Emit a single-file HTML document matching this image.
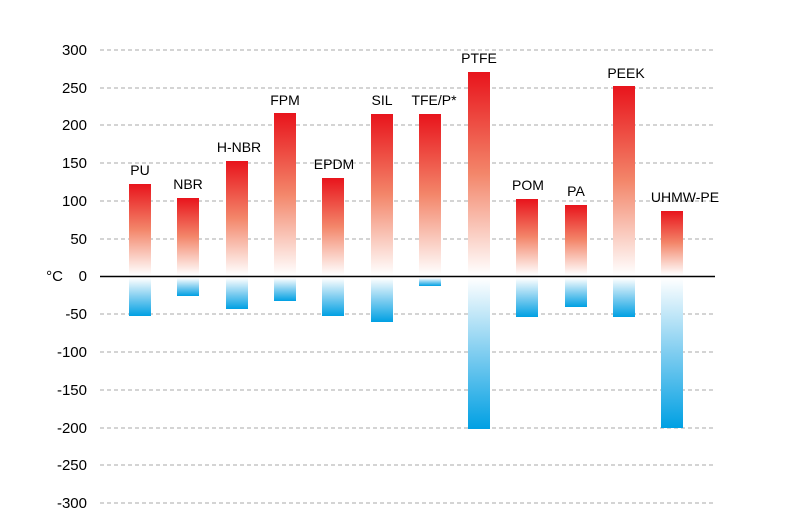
<!DOCTYPE html>
<html><head><meta charset="utf-8"><style>body{margin:0;background:#fff}svg{display:block}</style></head><body>
<svg width="789" height="514" xmlns="http://www.w3.org/2000/svg" font-family="Liberation Sans, sans-serif">
<defs>
<linearGradient id="r" x1="0" y1="0" x2="0" y2="1"><stop offset="0" stop-color="#e8141c"/><stop offset="0.5" stop-color="#f3866a"/><stop offset="1" stop-color="#ffffff"/></linearGradient>
<linearGradient id="b" x1="0" y1="0" x2="0" y2="1"><stop offset="0" stop-color="#ffffff"/><stop offset="0.5" stop-color="#7fcdf0"/><stop offset="1" stop-color="#00a0e3"/></linearGradient>
</defs>
<g stroke="#aaa" stroke-dasharray="4,3" stroke-width="1">
<line x1="100" x2="715" y1="50" y2="50"/><line x1="100" x2="715" y1="88" y2="88"/><line x1="100" x2="715" y1="125" y2="125"/><line x1="100" x2="715" y1="163" y2="163"/><line x1="100" x2="715" y1="201" y2="201"/><line x1="100" x2="715" y1="239" y2="239"/><line x1="100" x2="715" y1="314" y2="314"/><line x1="100" x2="715" y1="352" y2="352"/><line x1="100" x2="715" y1="390" y2="390"/><line x1="100" x2="715" y1="428" y2="428"/><line x1="100" x2="715" y1="465" y2="465"/><line x1="100" x2="715" y1="503" y2="503"/>
</g>
<g font-size="15" text-anchor="end" fill="#000">
<text x="87" y="55">300</text><text x="87" y="93">250</text><text x="87" y="130">200</text><text x="87" y="168">150</text><text x="87" y="206">100</text><text x="87" y="244">50</text><text x="87" y="281">0</text><text x="87" y="319">-50</text><text x="87" y="357">-100</text><text x="87" y="395">-150</text><text x="87" y="433">-200</text><text x="87" y="470">-250</text><text x="87" y="508">-300</text>
<text x="63" y="281">°C</text>
</g>
<g id="bars"></g>
<line x1="100" x2="715" y1="276.5" y2="276.5" stroke="#000" stroke-width="1.5"/>
<g font-size="14" text-anchor="middle" fill="#000">
<rect x="129" y="184" width="22" height="91" fill="url(#r)"/><rect x="129" y="278" width="22" height="38" fill="url(#b)"/><text x="140" y="175">PU</text>
<rect x="177" y="198" width="22" height="77" fill="url(#r)"/><rect x="177" y="278" width="22" height="18" fill="url(#b)"/><text x="188" y="189">NBR</text>
<rect x="226" y="161" width="22" height="114" fill="url(#r)"/><rect x="226" y="278" width="22" height="31" fill="url(#b)"/><text x="239" y="152">H-NBR</text>
<rect x="274" y="113" width="22" height="162" fill="url(#r)"/><rect x="274" y="278" width="22" height="23" fill="url(#b)"/><text x="285" y="105">FPM</text>
<rect x="322" y="178" width="22" height="97" fill="url(#r)"/><rect x="322" y="278" width="22" height="38" fill="url(#b)"/><text x="334" y="169">EPDM</text>
<rect x="371" y="114" width="22" height="161" fill="url(#r)"/><rect x="371" y="278" width="22" height="44" fill="url(#b)"/><text x="382" y="105">SIL</text>
<rect x="419" y="114" width="22" height="161" fill="url(#r)"/><rect x="419" y="278" width="22" height="8" fill="url(#b)"/><text x="434" y="105">TFE/P*</text>
<rect x="468" y="72" width="22" height="203" fill="url(#r)"/><rect x="468" y="278" width="22" height="151" fill="url(#b)"/><text x="479" y="63">PTFE</text>
<rect x="516" y="199" width="22" height="76" fill="url(#r)"/><rect x="516" y="278" width="22" height="39" fill="url(#b)"/><text x="528" y="190">POM</text>
<rect x="565" y="205" width="22" height="70" fill="url(#r)"/><rect x="565" y="278" width="22" height="29" fill="url(#b)"/><text x="576" y="196">PA</text>
<rect x="613" y="86" width="22" height="189" fill="url(#r)"/><rect x="613" y="278" width="22" height="39" fill="url(#b)"/><text x="626" y="78">PEEK</text>
<rect x="661" y="211" width="22" height="64" fill="url(#r)"/><rect x="661" y="278" width="22" height="150" fill="url(#b)"/><text x="685" y="202">UHMW-PE</text>
</g>
</svg>
</body></html>
